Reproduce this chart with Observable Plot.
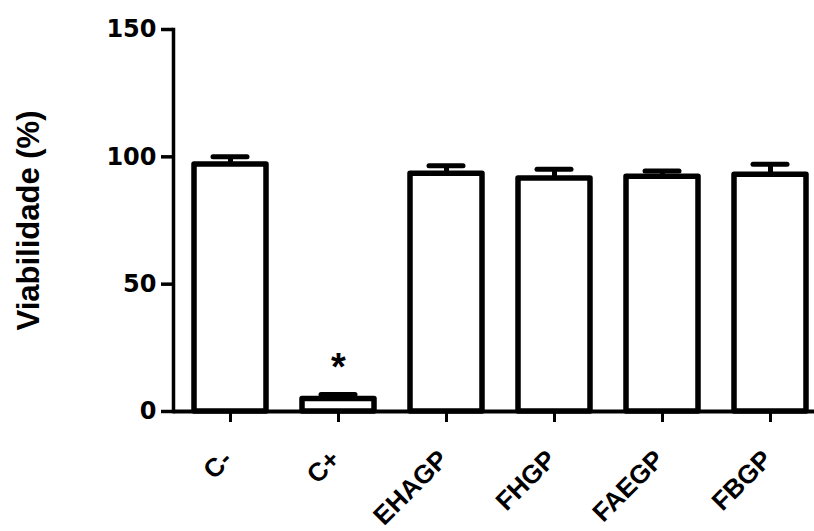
<!DOCTYPE html>
<html>
<head>
<meta charset="utf-8">
<script src="https://cdn.jsdelivr.net/npm/d3@7"></script>
<script src="https://cdn.jsdelivr.net/npm/@observablehq/plot@0.6"></script>
<style>
  html, body { margin: 0; padding: 0; background: #ffffff; }
</style>
</head>
<body>
<div id="chart"></div>
<script>
const categories = ["C-", "C+", "EHAGP", "FHGP", "FAEGP", "FBGP"];
const means = [97.0, 4.9, 93.4, 91.5, 92.2, 93.0];
const sems = [3.0, 1.8, 3.1, 3.6, 2.2, 4.1];
const significance = ["", "*", "", "", "", ""];
const yTicks = [0, 50, 100, 150];
const yLabel = "Viabilidade (%)";

const rows = categories.map((group, i) => ({
  group,
  mean: means[i],
  sem: sems[i],
  top: means[i] + sems[i],
  sig: significance[i]
}));

const chart = Plot.plot({
  width: 814,
  height: 531,
  marginLeft: 173,
  marginRight: 0,
  marginTop: 29,
  marginBottom: 120,
  style: {
    fontFamily: "'Liberation Sans', Arial, Helvetica, sans-serif",
    fontWeight: "bold",
    color: "#000000",
    background: "#ffffff",
    overflow: "visible"
  },
  x: {domain: categories, range: [174, 825.6], paddingInner: 0.333, paddingOuter: 0.1667},
  y: {domain: [0, 150]},
  marks: [
    Plot.axisY({ticks: yTicks, tickSize: 12, tickPadding: 5, fontSize: 24, fontFamily: "'DejaVu Sans', sans-serif", strokeWidth: 3.5, label: null}),
    Plot.axisX({tickSize: 11, tickPadding: 0, strokeWidth: 3, tickFormat: () => "", label: null}),
    Plot.frame({anchor: "left", strokeWidth: 3.5, stroke: "#000"}),
    Plot.ruleY([0], {strokeWidth: 4, stroke: "#000"}),
    Plot.ruleX(rows, {x: "group", y1: "mean", y2: "top", strokeWidth: 5, stroke: "#000"}),
    Plot.tickY(rows, {x: "group", y: "top", strokeWidth: 5, stroke: "#000", strokeLinecap: "round", insetLeft: 19, insetRight: 19}),
    Plot.barY(rows, {x: "group", y: "mean", fill: "#ffffff", stroke: "#000", strokeWidth: 5.5, strokeLinejoin: "round"}),
    Plot.text(rows, {x: "group", y: "top", text: "sig", fontSize: 38, lineAnchor: "bottom", dy: -14, fill: "#000"}),
    Plot.text(categories, {x: d => d, frameAnchor: "bottom", text: d => d, rotate: -45, textAnchor: "end", lineAnchor: "bottom", dx: 3, dy: 49.5, fontSize: 26, fill: "#000"}),
    Plot.text([yLabel], {frameAnchor: "left", text: d => d, rotate: -90, textAnchor: "middle", lineAnchor: "middle", dx: -144, fontSize: 31, fill: "#000"})
  ]
});

document.getElementById("chart").appendChild(chart);
</script>
</body>
</html>
